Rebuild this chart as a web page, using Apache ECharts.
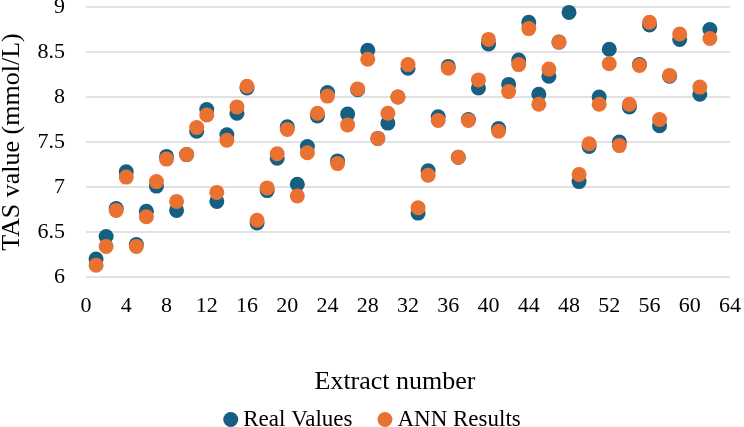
<!DOCTYPE html>
<html>
<head>
<meta charset="utf-8">
<script src="https://cdn.jsdelivr.net/npm/echarts@6/dist/echarts.min.js"></script>
<style>html,body{margin:0;padding:0;background:#fff}#c{width:744px;height:427px}</style>
</head>
<body>
<div id="c"></div>
<script>
const extractNumbers = [1,2,3,4,5,6,7,8,9,10,11,12,13,14,15,16,17,18,19,20,21,22,23,24,25,26,27,28,29,30,31,32,33,34,35,36,37,38,39,40,41,42,43,44,45,46,47,48,49,50,51,52,53,54,55,56,57,58,59,61,62];
const realValues = [6.20,6.45,6.76,7.17,6.36,6.73,7.01,7.34,6.74,7.36,7.62,7.86,6.84,7.58,7.82,8.10,6.60,6.96,7.32,7.67,7.03,7.45,7.79,8.05,7.29,7.81,8.08,8.52,7.54,7.71,8.00,8.32,6.71,7.18,7.78,8.34,7.33,7.75,8.10,8.59,7.65,8.14,8.41,8.83,8.03,8.23,8.61,8.94,7.06,7.45,8.00,8.53,7.50,7.89,8.36,8.80,7.68,8.23,8.64,8.03,8.75];
const annResults = [6.13,6.34,6.74,7.11,6.34,6.67,7.06,7.31,6.84,7.36,7.66,7.80,6.94,7.52,7.89,8.12,6.63,6.99,7.37,7.64,6.90,7.38,7.82,8.01,7.26,7.69,8.09,8.42,7.54,7.82,8.00,8.36,6.77,7.13,7.74,8.32,7.33,7.74,8.19,8.64,7.62,8.06,8.36,8.76,7.92,8.31,8.61,null,7.14,7.48,7.92,8.37,7.46,7.92,8.35,8.83,7.75,8.24,8.70,8.11,8.65];
const xTicks = {min: 0, max: 64, step: 4};
const yTicks = {min: 6, max: 9, step: 0.5};

const realData = extractNumbers.map((x, i) => [x, realValues[i]]).filter(d => d[1] != null);
const annData = extractNumbers.map((x, i) => [x, annResults[i]]).filter(d => d[1] != null);

const font = '"Liberation Serif","Times New Roman",serif';
const chart = echarts.init(document.getElementById('c'));
chart.setOption({
  animation: false,
  backgroundColor: '#fff',
  textStyle: {fontFamily: font},
  grid: {left: 86, right: 14, top: 7, bottom: 150, containLabel: false, outerBoundsMode: 'none'},
  xAxis: {
    type: 'value', min: xTicks.min, max: xTicks.max, interval: xTicks.step,
    name: 'Extract number', nameLocation: 'middle', nameGap: 92,
    nameTextStyle: {fontFamily: font, fontSize: 26, color: '#000', padding: [0, 26, 0, 0]},
    axisLine: {show: false}, axisTick: {show: false},
    axisLabel: {fontFamily: font, fontSize: 22, color: '#000', margin: 18},
    splitLine: {show: false}
  },
  yAxis: {
    type: 'value', min: yTicks.min, max: yTicks.max, interval: yTicks.step,
    name: 'TAS value (mmol/L)', nameLocation: 'middle', nameGap: 61, nameRotate: 90,
    nameTextStyle: {fontFamily: font, fontSize: 26, color: '#000'},
    axisLine: {show: false}, axisTick: {show: false},
    axisLabel: {fontFamily: font, fontSize: 22, color: '#000', margin: 21},
    splitLine: {show: true, lineStyle: {color: '#d9d9d9', width: 1.5}}
  },
  legend: {
    top: 403, left: 'center', itemGap: 25, itemWidth: 15, itemHeight: 15,
    icon: 'circle',
    textStyle: {fontFamily: font, fontSize: 23, color: '#000'},
    data: ['Real Values', 'ANN Results']
  },
  series: [
    {name: 'Real Values', type: 'scatter', data: realData, symbolSize: 15,
     itemStyle: {color: '#156082', opacity: 1}},
    {name: 'ANN Results', type: 'scatter', data: annData, symbolSize: 15,
     itemStyle: {color: '#E97132', opacity: 1}}
  ]
});
</script>
</body>
</html>
